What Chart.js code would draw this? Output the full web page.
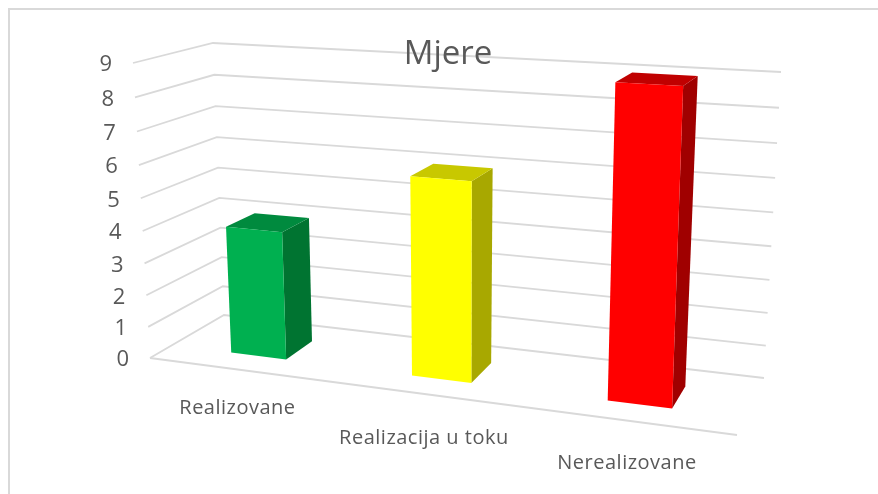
<!DOCTYPE html>
<html>
<head>
<meta charset="utf-8">
<title>Mjere</title>
<script src="https://cdn.jsdelivr.net/npm/chart.js@4"></script>
<style>
  html, body { margin: 0; padding: 0; background: #fff; }
  canvas { display: block; }
</style>
</head>
<body>
<canvas id="chart" width="878" height="494"></canvas>
<script>
var categories = ['Realizovane', 'Realizacija u toku', 'Nerealizovane'];
var values = [4, 6, 9];
var axisMax = 9;

// front / top / side shades of each column
var frontColors = ['#00B050', '#FFFF00', '#FF0000'];
var topColors = ['#008A3E', '#C8C800', '#C00000'];
var sideColors = ['#007431', '#A8A800', '#A00000'];

var textColor = '#595959';
var gridColor = '#D9D9D9';
var fontName = '"Open Sans", sans-serif';

// screen corners of the 3D box, name = front/back + left/right + bottom/top
var box = {
    flb: [150, 358], flt: [133, 63], blb: [224, 315], blt: [213, 43],
    frb: [737, 435], frt: [751, 98], brb: [764, 378], brt: [781, 72]
};
var barDepthFront = 0.3;
var barDepthBack = 0.7;
var perspectiveU = 0.887;
var perspectiveV = 0.945;
var labelDrop = [39, 44, 42];
var labelShift = [-1, -2, -2];

function mix(a, b, t) {
    return [a[0] + (b[0] - a[0]) * t, a[1] + (b[1] - a[1]) * t];
}

function warp(t, a) {
    return a * t / (1 + (a - 1) * t);
}

// u across the floor, v up the wall, w into the depth, all 0..1
function project(u, v, w) {
    var k = warp(u, perspectiveU);
    var h = warp(v, perspectiveV);
    var front = mix(mix(box.flb, box.frb, k), mix(box.flt, box.frt, k), h);
    var back = mix(mix(box.blb, box.brb, k), mix(box.blt, box.brt, k), h);
    return mix(front, back, w);
}

function polyline(ctx, pts) {
    ctx.beginPath();
    ctx.moveTo(pts[0][0], pts[0][1]);
    for (var i = 1; i < pts.length; i++) ctx.lineTo(pts[i][0], pts[i][1]);
}

function fillPoly(ctx, pts, color) {
    polyline(ctx, pts);
    ctx.closePath();
    ctx.fillStyle = color;
    ctx.fill();
}

var box3d = {
    id: 'box3d',
    beforeDraw: function(chart) {
        var ctx = chart.ctx;
        var x = chart.scales.x;
        var y = chart.scales.y;
        var area = chart.chartArea;

        ctx.save();
        // chart frame, only the top and left edges are in the crop
        ctx.strokeStyle = gridColor;
        ctx.lineWidth = 2;
        polyline(ctx, [[9, 494], [9, 9], [878, 9]]);
        ctx.stroke();

        ctx.lineWidth = 1.8;
        ctx.font = '22px ' + fontName;
        ctx.textAlign = 'right';
        ctx.textBaseline = 'middle';
        y.ticks.forEach(function(t) {
            var v = (area.bottom - y.getPixelForValue(t.value)) / area.height;
            var a = project(0, v, 0);
            ctx.strokeStyle = gridColor;
            polyline(ctx, [a, project(0, v, 1), project(1, v, 1)]);
            ctx.stroke();
            ctx.fillStyle = textColor;
            ctx.fillText(t.value, a[0] - 21, a[1] + 2);
        });
        ctx.strokeStyle = gridColor;
        polyline(ctx, [project(0, 0, 0), project(1, 0, 0)]);
        ctx.stroke();

        ctx.font = '20px ' + fontName;
        ctx.letterSpacing = '0.5px';
        ctx.textAlign = 'center';
        ctx.fillStyle = textColor;
        categories.forEach(function(c, i) {
            var u = (x.getPixelForValue(i) - area.left) / area.width;
            var p = project(u, 0, 0);
            ctx.fillText(c, p[0] + labelShift[i], p[1] + labelDrop[i]);
        });
        ctx.restore();
    },
    beforeDatasetDraw: function(chart, args) {
        var ctx = chart.ctx;
        var area = chart.chartArea;
        args.meta.data.forEach(function(bar, i) {
            var u0 = (bar.x - bar.width / 2 - area.left) / area.width;
            var u1 = (bar.x + bar.width / 2 - area.left) / area.width;
            var top = (area.bottom - bar.y) / area.height;
            var a = barDepthFront;
            var b = barDepthBack;
            fillPoly(ctx, [project(u1, 0, a), project(u1, top, a), project(u1, top, b), project(u1, 0, b)], sideColors[i]);
            fillPoly(ctx, [project(u0, top, a), project(u1, top, a), project(u1, top, b), project(u0, top, b)], topColors[i]);
            fillPoly(ctx, [project(u0, 0, a), project(u1, 0, a), project(u1, top, a), project(u0, top, a)], frontColors[i]);
        });
        return false; // the flat bar is replaced by the column above
    }
};

var chart = new Chart(document.getElementById('chart').getContext('2d'), {
    type: 'bar',
    data: {
        labels: categories,
        datasets: [{
            label: 'Mjere',
            data: values,
            backgroundColor: frontColors,
            categoryPercentage: 0.312,
            barPercentage: 1
        }]
    },
    options: {
        responsive: false,
        animation: false,
        layout: { padding: { left: 18 } },
        plugins: {
            legend: { display: false },
            tooltip: { enabled: false },
            title: {
                display: true,
                text: 'Mjere',
                color: textColor,
                font: { family: fontName, size: 33, weight: 'normal' },
                padding: { top: 35, bottom: 0 }
            }
        },
        scales: {
            x: { display: false },
            y: { display: false, min: 0, max: axisMax, ticks: { stepSize: 1 } }
        }
    },
    plugins: [box3d]
});
</script>
</body>
</html>
